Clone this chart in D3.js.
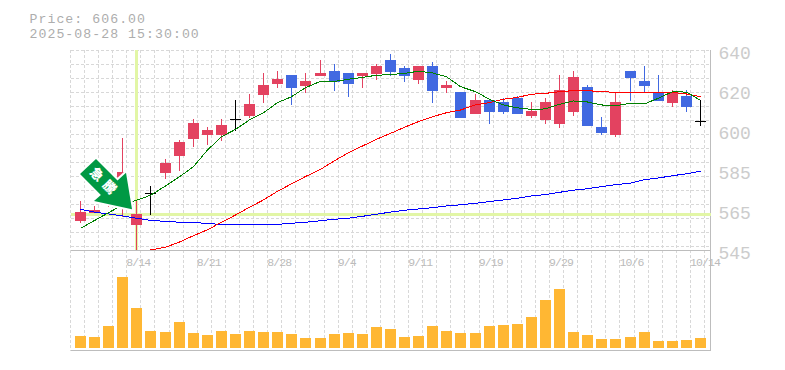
<!DOCTYPE html>
<html lang="ja">
<head>
<meta charset="utf-8">
<title>Price chart</title>
<script src="https://cdn.jsdelivr.net/npm/d3@7"></script>
<style>
    html, body { margin: 0; padding: 0; background: #fff; }
    svg { display: block; }
    text { font-family: "Liberation Mono", monospace; }
</style>
</head>
<body>
<div id="container"></div>
<script>
const dates = ["8/7", "8/8", "8/12", "8/13", "8/14", "8/15", "8/18", "8/19", "8/20", "8/21", "8/22", "8/25", "8/26", "8/27", "8/28",
    "8/29", "9/1", "9/2", "9/3", "9/4", "9/5", "9/8", "9/9", "9/10", "9/11", "9/12", "9/16", "9/17", "9/18", "9/19",
    "9/22", "9/24", "9/25", "9/26", "9/29", "9/30", "10/1", "10/2", "10/3", "10/6", "10/7", "10/8", "10/9", "10/10", "10/14"];
const opens = [558.9, 562.7, 566.9, 566.4, 556.9, 571.9, 581.6, 589.7, 597.7, 599.6, 599.6, 607.1, 608.7, 618.6, 623.9,
    628.1, 622.9, 627.7, 630, 629.1, 627.7, 628.6, 635.3, 631.5, 625.8, 632.4, 622, 620, 609.6, 616.3,
    615.3, 617.2, 608.7, 606.8, 604.9, 610.6, 622.4, 603.4, 599.6, 630, 625.3, 620, 614.8, 618.2, 606.3];
const highs = [568.3, 565.8, 573.5, 598.2, 568.4, 575.4, 588.2, 597.3, 607.2, 603.4, 607.2, 616.3, 619.1, 629.1, 630,
    628.1, 629.1, 635.3, 633.4, 629.1, 629.1, 633.4, 638.1, 632.4, 632.4, 634.3, 625.3, 620, 619.1, 616.3,
    617.2, 618.2, 615.3, 617.2, 628.1, 630, 623.4, 608.2, 620, 630, 632.4, 628.1, 621, 621, 616.3];
const lows = [558, 562.4, 565.4, 560.7, 545, 561.6, 578.7, 582.7, 593.9, 594.9, 596.8, 601.7, 607.7, 614.8, 622,
    613.9, 619.6, 627.7, 620.5, 617.7, 622, 625.8, 627.7, 624.8, 623.9, 614.8, 619.6, 607.7, 609.6, 604.9,
    609.6, 609.6, 607.7, 604.9, 602.9, 608.7, 603.9, 599.6, 598.7, 615.8, 620, 615.8, 612.9, 610.6, 603.9];
const closes = [562.9, 563.9, 571.1, 582, 562.1, 571.9, 586.3, 596.3, 605.3, 602, 604.4, 607.1, 614.4, 623.4, 626.2,
    622, 625.3, 629.1, 624.8, 623.9, 629.1, 632.4, 629.6, 627.7, 632.4, 620.5, 623.4, 607.7, 616.3, 610.6,
    610.6, 609.6, 611, 615.3, 621, 627.2, 603.9, 600.6, 615.3, 626.7, 622.9, 615.8, 620, 612.9, 606.3];
const volumes = [12, 11, 22, 71, 40, 17, 16, 26, 15, 13, 17, 14, 17, 16, 16,
    14, 10, 10, 14, 15, 14, 21, 19, 11, 12, 22, 17, 15, 15, 22,
    23, 24, 31, 48, 59, 16, 13, 9, 9, 11, 16, 7, 7, 8, 10];
const maShort = [555.3, 559, 562.7, 566.4, 568.6, 571, 575.4, 579.8, 584.6, 592.5, 598.8, 602.3, 606.8, 610.2, 615,
    617.8, 622.1, 625.1, 625.1, 626.1, 627, 628, 628.3, 628.9, 629.9, 629.1, 627.3, 622.6, 620.2, 616.6,
    613.9, 612.5, 611.8, 612, 614.2, 615.8, 615.3, 613.9, 613.5, 614.7, 614.4, 617.1, 620.2, 620, 616.1];
const maMid = [null, null, null, null, null, 545, 546.3, 548.8, 551.8, 554.6, 558.2, 561.6, 565.3, 568.8, 572.9,
    576.4, 579.9, 583.3, 587.4, 591.2, 594.4, 597.6, 600.4, 603.3, 606, 608.3, 610.2, 611.5, 613.9, 615,
    616.6, 617.5, 619, 619.4, 620.2, 620.7, 620.7, 620.2, 619.9, 619.9, 619.9, 619.9, 619.9, 619.1, 617.8];
const maLong = [564.3, 563, 562.1, 561.2, 560.1, 559.1, 558.6, 558.2, 558.2, 557.5, 557.2, 557.1, 557.1, 557.1, 557.2,
    557.7, 558.2, 558.9, 559.6, 560.1, 561, 562, 563, 563.9, 564.5, 565.1, 565.9, 566.5, 567.2, 568,
    568.8, 569.6, 570.7, 571.3, 572.4, 573.4, 574.1, 575.1, 576, 576.8, 578.4, 579.2, 580.3, 581.2, 582.4];
const xTicks = ["8/14", "8/21", "8/28", "9/4", "9/11", "9/19", "9/29", "10/6", "10/14"];
const yTicks = [640, 621, 602, 583, 564, 545];
const yTickLabels = ["640", "620", "600", "585", "565", "545"];
const signalDate = "8/14";
const signalPrice = 562;
const signalLabel = "急騰";
const titleLines = ["Price: 606.00", "2025-08-28 15:30:00"];

const width = 785;
const height = 370;
const left = 70.5;
const right = 710.5;
const priceTop = 50;
const priceBottom = 250.5;
const volumeBottom = 350.5;

const svg = d3.select("#container").append("svg")
    .attr("width", width)
    .attr("height", height);

const point = d3.scalePoint().domain(dates).range([80, 700]);
const x = d => Math.round(point(d)) + 0.5;
const y = d3.scaleLinear().domain([640, 545]).range([priceTop, 250]);
const yVolume = d3.scaleLinear().domain([0, d3.max(volumes)]).range([348, 277]);
const snap = v => Math.round(v);

// Grid
const grid = svg.append("g")
    .attr("stroke", "#d8d8d8")
    .attr("stroke-dasharray", "3,2")
    .attr("shape-rendering", "crispEdges");
grid.selectAll("line.v")
    .data(dates)
    .join("line")
    .classed("v", true)
    .attr("x1", d => x(d) + 4)
    .attr("x2", d => x(d) + 4)
    .attr("y1", priceTop)
    .attr("y2", volumeBottom);
grid.append("line")
    .attr("x1", left).attr("x2", left)
    .attr("y1", priceTop).attr("y2", volumeBottom);
grid.selectAll("line.h")
    .data(d3.range(priceTop + 0.5, 250, 14))
    .join("line")
    .classed("h", true)
    .attr("x1", left).attr("x2", right)
    .attr("y1", d => d).attr("y2", d => d);

// Panel borders
const border = svg.append("g")
    .attr("stroke", "#bdbdbd")
    .attr("shape-rendering", "crispEdges");
border.append("line").attr("x1", left).attr("x2", right).attr("y1", priceBottom).attr("y2", priceBottom);
border.append("line").attr("x1", left).attr("x2", right).attr("y1", volumeBottom).attr("y2", volumeBottom);
border.append("line").attr("x1", right).attr("x2", right).attr("y1", priceTop).attr("y2", volumeBottom);

// Signal cross hair
svg.append("line")
    .attr("x1", left).attr("x2", right)
    .attr("y1", snap(y(signalPrice)) + 0.5).attr("y2", snap(y(signalPrice)) + 0.5)
    .attr("stroke", "#e2f6a6").attr("stroke-width", 3)
    .attr("shape-rendering", "crispEdges");
svg.append("line")
    .attr("x1", x(signalDate)).attr("x2", x(signalDate))
    .attr("y1", priceTop).attr("y2", 250)
    .attr("stroke", "#e2f6a6").attr("stroke-width", 3)
    .attr("shape-rendering", "crispEdges");

// Candles
const colorOf = i => closes[i] > opens[i] ? "#e34260" : closes[i] < opens[i] ? "#4169e1" : "#000";
const candles = svg.append("g")
    .attr("shape-rendering", "crispEdges")
    .selectAll("g")
    .data(dates)
    .join("g");
candles.append("line")
    .attr("x1", d => x(d)).attr("x2", d => x(d))
    .attr("y1", (d, i) => snap(y(highs[i])))
    .attr("y2", (d, i) => snap(y(lows[i])))
    .attr("stroke", (d, i) => colorOf(i));
candles.filter((d, i) => opens[i] !== closes[i])
    .append("rect")
    .attr("x", d => x(d) - 5.5)
    .attr("width", 11)
    .attr("y", d => snap(y(Math.max(opens[dates.indexOf(d)], closes[dates.indexOf(d)]))))
    .attr("height", d => {
        const i = dates.indexOf(d);
        return snap(y(Math.min(opens[i], closes[i]))) - snap(y(Math.max(opens[i], closes[i])));
    })
    .attr("fill", d => colorOf(dates.indexOf(d)));
candles.filter((d, i) => opens[i] === closes[i])
    .append("line")
    .attr("x1", d => x(d) - 5.5)
    .attr("x2", d => x(d) + 5.5)
    .attr("y1", d => snap(y(closes[dates.indexOf(d)])) + 0.5)
    .attr("y2", d => snap(y(closes[dates.indexOf(d)])) + 0.5)
    .attr("stroke", "#000");

// Moving averages
const line = d3.line()
    .defined(d => d[1] !== null)
    .x(d => x(d[0]))
    .y(d => y(d[1]));
[[maLong, "#0000ff"], [maMid, "#ff0000"], [maShort, "#008000"]].forEach(([values, color]) => {
    svg.append("path")
        .attr("d", line(dates.map((d, i) => [d, values[i]])))
        .attr("fill", "none")
        .attr("stroke", color)
        .attr("shape-rendering", "crispEdges");
});

// Volume
svg.append("g")
    .attr("shape-rendering", "crispEdges")
    .selectAll("rect")
    .data(volumes)
    .join("rect")
    .attr("x", (d, i) => x(dates[i]) - 5.5)
    .attr("width", 11)
    .attr("y", d => snap(yVolume(d)))
    .attr("height", d => 348 - snap(yVolume(d)))
    .attr("fill", "#ffb733");

// Axes
const xAxis = svg.append("g")
    .attr("transform", `translate(0,${priceBottom})`)
    .call(d3.axisBottom(point).tickValues(xTicks).tickSize(0).tickPadding(0));
xAxis.select(".domain").remove();
xAxis.selectAll("text")
    .attr("x", -10.5)
    .attr("y", 15.5)
    .attr("dy", 0)
    .attr("text-anchor", "start")
    .attr("fill", "#bbbbbb")
    .attr("font-family", "Liberation Mono")
    .attr("font-size", 11.5)
    .attr("letter-spacing", -0.9);

const yAxis = svg.append("g")
    .attr("transform", `translate(${right},0)`)
    .call(d3.axisRight(y).tickValues(yTicks).tickSize(0).tickPadding(8)
        .tickFormat((d, i) => yTickLabels[i]));
yAxis.select(".domain").remove();
yAxis.selectAll("text")
    .attr("dy", 8)
    .attr("fill", "#cccccc")
    .attr("font-family", "Liberation Mono")
    .attr("font-size", 18);

// Title
svg.append("g")
    .selectAll("text")
    .data(titleLines)
    .join("text")
    .attr("x", 29.5)
    .attr("y", (d, i) => 23 + i * 15)
    .attr("fill", "#adadad")
    .attr("font-size", 13.2)
    .attr("letter-spacing", 1.05)
    .text(d => d);

// Signal arrow, anchored on the signal candle
const tipX = x(signalDate) - 4.5;
const tipY = y(highs[dates.indexOf(signalDate)]) + 8.6;
const arrow = svg.append("g")
    .attr("transform", `translate(${tipX},${tipY})`);
arrow.append("path")
    .attr("d", "M0,0L-38,-8.3L-31.1,-14.4L-52,-35.3L-36,-50.3L-14.5,-28.8L-6,-36.6Z")
    .attr("fill", "#009944")
    .attr("stroke", "#fff")
    .attr("stroke-width", 4)
    .attr("paint-order", "stroke");
arrow.append("text")
    .attr("transform", "translate(-27,-27) rotate(45)")
    .attr("text-anchor", "middle")
    .attr("dy", "0.36em")
    .attr("letter-spacing", 5)
    .attr("fill", "#fff")
    .attr("font-size", 13)
    .attr("font-weight", 900)
    .style("font-family", "'Noto Sans CJK JP'")
    .text(signalLabel);
</script>
</body>
</html>
